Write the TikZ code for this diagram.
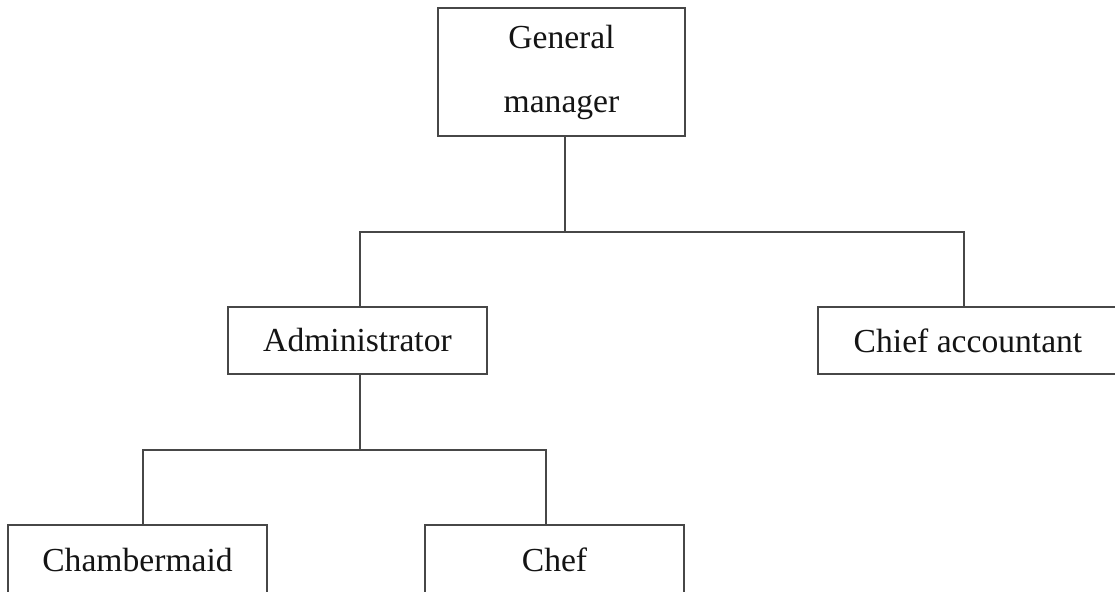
\documentclass[tikz,border=0pt]{standalone}
\usepackage{fontspec}
\setmainfont{Liberation Serif}
\begin{document}
\begin{tikzpicture}[x=0.5pt,y=-0.5pt,
  box/.style={draw=black!72,line width=1.35pt,rectangle,inner sep=0pt,
    minimum height=33.5pt,minimum width=129.5pt,
    font=\fontsize{16.8}{32}\selectfont,text=black!92},
  link/.style={draw=black!72,line width=1.35pt}]
\useasboundingbox (0,0) rectangle (1115,592);
\clip (0,0) rectangle (1115,592);
\fill[white] (0,0) rectangle (1115,592);

\node[box,minimum width=123.5pt,minimum height=64pt,align=center]
  (gm) at (561.5,72) {General\\manager};
\node[box] (admin) at (357.5,340.5) {Administrator};
\node[box,minimum width=150pt] (chief) at (968,340.5) {Chief accountant};
\node[box,minimum height=35pt] (maid) at (137.5,560) {Chambermaid};
\node[box,minimum height=35pt] (chef) at (554.5,560) {Chef};

\coordinate (j1) at (565,232);
\coordinate (j2) at (360,450);

\draw[link] ([xshift=1.75pt]gm.south) -- (j1);
\draw[link] (j1) -| ([xshift=1.25pt]admin.north);
\draw[link] (j1) -| ([xshift=-2pt]chief.north);
\draw[link] ([xshift=1.25pt]admin.south) -- (j2);
\draw[link] (j2) -| ([xshift=2.75pt]maid.north);
\draw[link] (j2) -| ([xshift=-4.25pt]chef.north);
\end{tikzpicture}
\end{document}
